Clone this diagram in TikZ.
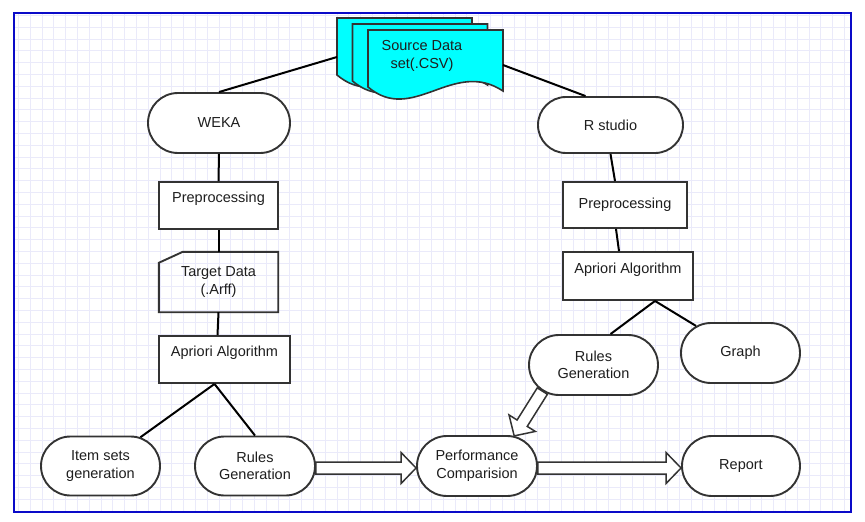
\documentclass[tikz,border=0pt]{standalone}
\usepackage{fontspec}
\setmainfont{Liberation Sans}
\usepackage{tikz}
\usetikzlibrary{calc,shapes.misc}
\definecolor{frameblue}{RGB}{10,10,200}
\definecolor{gridblue}{RGB}{234,234,250}
\definecolor{docfill}{RGB}{0,255,255}
\definecolor{edgegray}{RGB}{51,51,51}
\definecolor{txtgray}{RGB}{30,30,30}

% one sheet of the stacked data file, top-left corner at (#1,#2)
\newcommand{\docpage}[2]{%
  \draw[docsheet] (#1,#2) -- ({#1+135},#2) -- ({#1+135},{#2+61})
    .. controls ({#1+85},{#2+28}) and ({#1+45},{#2+95}) .. (#1,{#2+57}) -- cycle;}

% hollow block arrow from #1 to #2
\newcommand{\hollowarrow}[2]{%
  \coordinate (ha-s) at (#1);
  \coordinate (ha-t) at (#2);
  \coordinate (ha-b) at ($(ha-t)!15pt!(ha-s)$);
  \draw[fatarrow] ($(ha-s)!6pt!90:(ha-t)$) -- ($(ha-b)!6pt!-90:(ha-s)$)
    -- ($(ha-b)!15.5pt!-90:(ha-s)$) -- (ha-t) -- ($(ha-b)!15.5pt!90:(ha-s)$)
    -- ($(ha-b)!6pt!90:(ha-s)$) -- ($(ha-s)!6pt!-90:(ha-t)$) -- cycle;}

\begin{document}
\begin{tikzpicture}[x=1pt, y=-1pt, font=\fontsize{14.5}{17.5}\selectfont,
  every node/.style={text=txtgray},
  term/.style={rounded rectangle, draw=edgegray, line width=1.9pt, fill=white, inner sep=0pt},
  procbox/.style={rectangle, draw=edgegray, line width=1.9pt, fill=white, inner sep=0pt},
  toptext/.style={text height=10pt, text depth=16pt},
  link/.style={black, line width=2pt},
  docsheet/.style={fill=docfill, draw=edgegray, line width=1.6pt},
  fatarrow/.style={fill=white, draw=edgegray, line width=1.5pt, line join=miter}]
  \fill[white] (0,0) rectangle (865,522);
  \useasboundingbox (0,0) rectangle (865,522);

  % Grid paper and frame
  \foreach \gx in {18.2,30,...,851}
    \draw[gridblue, line width=0.5pt] (\gx,13) -- (\gx,512);
  \foreach \gy in {15.2,27,...,512}
    \draw[gridblue, line width=0.5pt] (14,\gy) -- (851,\gy);
  \draw[frameblue, line width=2.6pt] (14,13) rectangle (851,512);

  % Source data — three stacked sheets
  \docpage{337}{18}
  \docpage{352.5}{24}
  \docpage{368}{30}
  \node[align=center] (src) at (422,56) {Source Data\\set(.CSV)};
  \coordinate (srcL) at (337,57);
  \coordinate (srcR) at (503,65);

  % Left branch — WEKA
  \node[term, minimum width=142pt, minimum height=60pt] (weka) at (219,123) {WEKA};
  \node[procbox, toptext, minimum width=119pt, minimum height=47pt] (pre1) at (218.5,205.5) {Preprocessing};
  \node[align=center, inner sep=0pt, minimum width=119pt, minimum height=60pt] (tgt) at (218.5,282) {Target Data\\(.Arff)};
  \draw[edgegray, line width=1.9pt] (tgt.south west) -- ([yshift=-11pt]tgt.north west)
    -- ([xshift=24pt]tgt.north west) -- (tgt.north east) -- (tgt.south east) -- cycle;
  \node[procbox, toptext, minimum width=131pt, minimum height=47pt] (apri1) at (224.5,359.5) {Apriori Algorithm};
  \node[term, align=center, minimum width=119pt, minimum height=59pt] (items) at (100.5,466) {Item sets\\generation};
  \node[term, align=center, minimum width=120pt, minimum height=59pt] (rulesL) at (255,466) {Rules\\Generation};

  % Right branch — R studio
  \node[term, minimum width=145pt, minimum height=56pt] (rstudio) at (610.5,125) {R studio};
  \node[procbox, minimum width=124pt, minimum height=46pt] (pre2) at (625,205) {Preprocessing};
  \node[procbox, toptext, minimum width=130pt, minimum height=48pt] (apri2) at (628,276) {Apriori Algorithm};
  \node[term, align=center, minimum width=129pt, minimum height=60pt] (rulesR) at (593.5,365) {Rules\\Generation};
  \node[term, minimum width=119pt, minimum height=60pt] (graph) at (740.5,353) {Graph};

  % Bottom row
  \node[term, align=center, minimum width=120pt, minimum height=60pt] (perf) at (477,466) {Performance\\Comparision};
  \node[term, minimum width=118pt, minimum height=60pt] (report) at (741,466) {Report};

  % Plain links
  \draw[link] (srcL) -- (weka.north);
  \draw[link] (srcR) -- ([xshift=-25pt]rstudio.north);
  \draw[link] (weka.south) -- (pre1.north);
  \draw[link] (pre1.south) -- (tgt.north);
  \draw[link] (tgt.south) -- ([xshift=-7pt]apri1.north);
  \draw[link] ([xshift=-10pt]apri1.south) -- (items);
  \draw[link] ([xshift=-10pt]apri1.south) -- (rulesL.north);
  \draw[link] (rstudio.south) -- ([xshift=-10pt]pre2.north);
  \draw[link] ([xshift=-9pt]pre2.south) -- ([xshift=-9pt]apri2.north);
  \draw[link] ([xshift=27pt]apri2.south) -- ([xshift=17pt]rulesR.north);
  \draw[link] ([xshift=27pt]apri2.south) -- (graph);

  % Block arrows
  \hollowarrow{[yshift=-2pt]rulesL.east}{[yshift=-2pt]perf.west}
  \hollowarrow{[yshift=-2pt]perf.east}{[yshift=-2pt]report.west}
  \hollowarrow{rulesR.207}{perf.39}
\end{tikzpicture}
\end{document}
